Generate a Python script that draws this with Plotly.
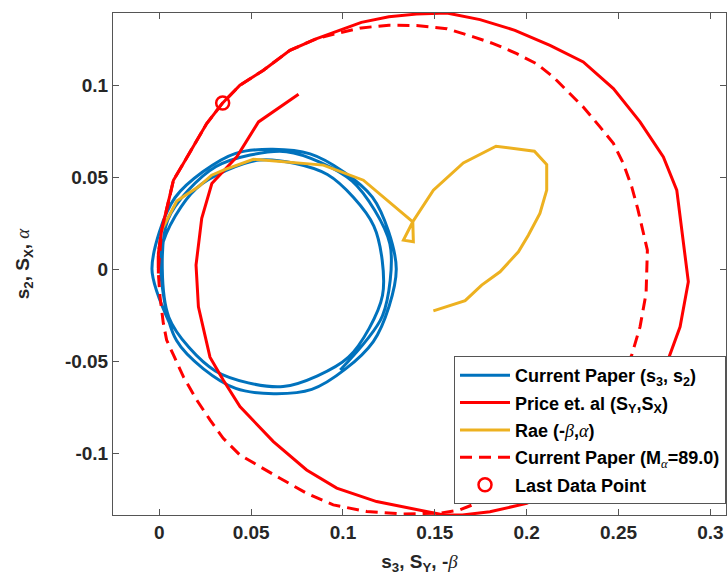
import plotly.graph_objects as go

# ---- data ----
blue_x = [0.0060, -0.0040, 0.0086, 0.0416, 0.0821, 0.1160, 0.1290, 0.1165, 0.0830, 0.0416, 0.0094,
          0.0013, 0.0202, 0.0546, 0.0915, 0.1168, 0.1215, 0.1030, 0.0674, 0.0305, 0.0052,
          0.0045, 0.0307, 0.0692, 0.1050, 0.1255, 0.1215, 0.0985]
blue_y = [-0.0300, 0.0005, 0.0393, 0.0633, 0.0630, 0.0395, 0.0005, -0.0390, -0.0650, -0.0645, -0.0385,
          0.0117, 0.0443, 0.0597, 0.0518, 0.0238, -0.0140, -0.0475, -0.0635, -0.0550, -0.0258,
          0.0268, 0.0560, 0.0642, 0.0482, 0.0142, -0.0250, -0.0545]

price_x = [-0.0005, -0.0005, 0.0013, 0.0049, 0.0077, 0.0131, 0.0194, 0.0258, 0.0345, 0.0439,
           0.0567, 0.0711, 0.0857, 0.0966, 0.1100, 0.1250, 0.1400, 0.1565, 0.1746, 0.1936,
           0.2127, 0.2308, 0.2472, 0.2617, 0.2744, 0.2817, 0.2830, 0.2880, 0.2835, 0.2780,
           0.2700, 0.2570, 0.2400, 0.2200, 0.2000, 0.1800, 0.1650, 0.1550, 0.1401, 0.1183,
           0.0966, 0.0802, 0.0621, 0.0439, 0.0348, 0.0276, 0.0213, 0.0200, 0.0231, 0.0286,
           0.0422, 0.0540, 0.0758]
price_y = [-0.0020, 0.0089, 0.0216, 0.0361, 0.0487, 0.0578, 0.0687, 0.0795, 0.0907, 0.1003,
           0.1085, 0.1193, 0.1257, 0.1295, 0.1345, 0.1375, 0.1390, 0.1396, 0.1360, 0.1302,
           0.1220, 0.1130, 0.0985, 0.0804, 0.0614, 0.0433, 0.0330, -0.0065, -0.0310, -0.0463,
           -0.0680, -0.0880, -0.1050, -0.1180, -0.1270, -0.1315, -0.1333, -0.1333, -0.1305, -0.1260,
           -0.1187, -0.1088, -0.0934, -0.0744, -0.0599, -0.0475, -0.0201, 0.0026, 0.0280, 0.0469,
           0.0614, 0.0804, 0.0954]

rae_x = [0.0013, 0.0095, 0.0213, 0.0285, 0.0349, 0.0512, 0.0893, 0.1111, 0.1380, 0.1329,
         0.1383, 0.1380, 0.1492, 0.1655, 0.1833, 0.2042, 0.2109, 0.2109, 0.2072, 0.2009,
         0.1955, 0.1855, 0.1755, 0.1665, 0.1492]
rae_y = [0.0216, 0.0374, 0.0451, 0.0514, 0.0542, 0.0601, 0.0569, 0.0487, 0.0261, 0.0161,
         0.0152, 0.0261, 0.0433, 0.0581, 0.0672, 0.0645, 0.0572, 0.0433, 0.0306, 0.0188,
         0.0098, -0.0011, -0.0083, -0.0168, -0.0223]

cur_x = [-0.0005, 0.0013, 0.0049, 0.0077, 0.0131, 0.0194, 0.0258, 0.0345, 0.0439, 0.0567,
         0.0711, 0.0857, 0.0966, 0.1100, 0.1250, 0.1400, 0.1565, 0.1710, 0.1818, 0.1946,
         0.2054, 0.2145, 0.2236, 0.2308, 0.2399, 0.2472, 0.2526, 0.2572, 0.2605, 0.2657,
         0.2650, 0.2617, 0.2572, 0.2490, 0.2380, 0.2230, 0.2050, 0.1850, 0.1637, 0.1528,
         0.1328, 0.1129, 0.0947, 0.0802, 0.0657, 0.0548, 0.0439, 0.0348, 0.0276, 0.0204,
         0.0131, 0.0077, 0.0040, 0.0022, 0.0004, -0.0005, -0.0005, 0.0013, 0.0049, 0.0077,
         0.0131, 0.0194, 0.0258, 0.0345]
cur_y = [0.0000, 0.0216, 0.0361, 0.0487, 0.0578, 0.0687, 0.0795, 0.0907, 0.1003, 0.1085,
         0.1193, 0.1257, 0.1285, 0.1315, 0.1330, 0.1328, 0.1311, 0.1266, 0.1230, 0.1175,
         0.1120, 0.1048, 0.0958, 0.0885, 0.0777, 0.0687, 0.0578, 0.0451, 0.0330, 0.0107,
         -0.0128, -0.0310, -0.0463, -0.0640, -0.0810, -0.0970, -0.1100, -0.1220, -0.1305, -0.1323,
         -0.1327, -0.1314, -0.1278, -0.1215, -0.1133, -0.1070, -0.1007, -0.0916, -0.0816, -0.0708,
         -0.0581, -0.0463, -0.0382, -0.0291, -0.0147, -0.0020, 0.0089, 0.0216, 0.0361, 0.0487,
         0.0578, 0.0687, 0.0795, 0.0907]

last_x = [0.0345]
last_y = [0.0907]

x_ticks = [0, 0.05, 0.1, 0.15, 0.2, 0.25, 0.3]
x_tick_labels = ["0", "0.05", "0.1", "0.15", "0.2", "0.25", "0.3"]
y_ticks = [-0.1, -0.05, 0, 0.05, 0.1]
y_tick_labels = ["-0.1", "-0.05", "0", "0.05", "0.1"]

GREEK = "font-family:'Liberation Serif';font-style:italic;font-weight:normal"
beta = f"<span style=\"{GREEK}\">β</span>"
alpha = f"<span style=\"{GREEK}\">α</span>"

BLUE = "#0072BD"
RED = "#FF0000"
YEL = "#EDB120"

fig = go.Figure()
fig.add_trace(go.Scatter(x=blue_x, y=blue_y, mode="lines",
                         line=dict(color=BLUE, width=3, shape="spline", smoothing=0.8),
                         name="Current Paper (s<sub>3</sub>, s<sub>2</sub>)", legendgroup="a"))
fig.add_trace(go.Scatter(x=price_x, y=price_y, mode="lines",
                         line=dict(color=RED, width=3),
                         name="Price et. al (S<sub>Y</sub>,S<sub>X</sub>)", legendgroup="b"))
fig.add_trace(go.Scatter(x=rae_x, y=rae_y, mode="lines",
                         line=dict(color=YEL, width=3),
                         name=f"Rae (-{beta},{alpha})", legendgroup="c"))
fig.add_trace(go.Scatter(x=cur_x, y=cur_y, mode="lines",
                         line=dict(color=RED, width=3, dash="12px,7px"),
                         name=f"Current Paper (M<sub>{alpha}</sub>=89.0)", legendgroup="d"))
fig.add_trace(go.Scatter(x=last_x, y=last_y, mode="markers",
                         marker=dict(symbol="circle-open", size=13, color=RED,
                                     line=dict(width=2.5, color=RED)),
                         name="Last Data Point", legendgroup="e"))

axis_common = dict(
    showgrid=False, zeroline=False, showline=True, linecolor="#555555", linewidth=1,
    mirror="ticks", ticks="inside", ticklen=6, tickcolor="#555555", tickwidth=1,
    tickfont=dict(family="Liberation Sans", size=19, color="#262626", weight="bold"),
)

fig.update_layout(
    width=728, height=578,
    margin=dict(l=113, r=2, t=13, b=63),
    paper_bgcolor="white", plot_bgcolor="white",
    font=dict(family="Liberation Sans", size=18, color="#262626", weight="bold"),
    xaxis=dict(range=[-0.0252, 0.3085], tickvals=x_ticks, ticktext=x_tick_labels,
               title=dict(text=f"s<sub>3</sub>, S<sub>Y</sub>, -{beta}", standoff=12,
                          font=dict(size=19, weight="bold")),
               automargin=False, **axis_common),
    yaxis=dict(range=[-0.1333, 0.1396], tickvals=y_ticks, ticktext=y_tick_labels,
               title=dict(text=f"s<sub>2</sub>, S<sub>X</sub>, {alpha}", standoff=30,
                          font=dict(size=19, weight="bold")),
               automargin=False, **axis_common),
    showlegend=True,
    legend=dict(x=1, xanchor="right", y=0.022, yanchor="bottom",
                bgcolor="white", bordercolor="#555555", borderwidth=1,
                font=dict(family="Liberation Sans", size=18, color="black", weight="bold"),
                traceorder="grouped", tracegroupgap=1, itemwidth=50),
)

fig.write_html("out.html")
